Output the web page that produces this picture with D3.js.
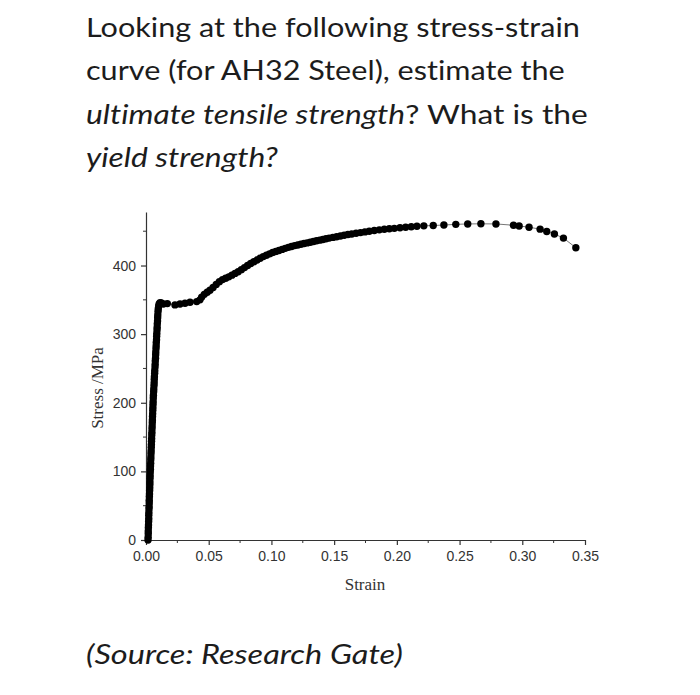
<!DOCTYPE html>
<html>
<head>
<meta charset="utf-8">
<script src="https://cdn.jsdelivr.net/npm/d3@7"></script>
<style>
  html, body { margin: 0; padding: 0; background: #fff; }
  svg { display: block; }
  text { font-variant-ligatures: none; }
</style>
</head>
<body>
<div id="chart"></div>
<script>
// ---- Data ----
const strain = [
  // elastic part
  0.0016,0.0017,0.0018,0.0018,0.0019,0.0020,0.0021,0.0022,0.0022,0.0023,
  0.0024,0.0025,0.0026,0.0026,0.0027,0.0028,0.0029,0.0030,0.0031,0.0031,
  0.0032,0.0033,0.0034,0.0035,0.0036,0.0037,0.0038,0.0039,0.0040,0.0041,
  0.0042,0.0043,0.0044,0.0045,0.0046,0.0047,0.0048,0.0049,0.0050,0.0051,
  0.0052,0.0053,0.0054,0.0055,0.0056,0.0057,0.0058,0.0059,0.0061,0.0062,
  0.0064,0.0065,0.0066,0.0067,0.0069,0.0070,0.0072,0.0073,0.0074,0.0076,
  0.0077,0.0078,0.0080,0.0081,0.0082,0.0084,0.0085,0.0086,0.0088,0.0089,
  0.0090,0.0092,0.0093,0.0094,0.0096,0.0098,0.0101,0.0105,0.0112,0.0122,
  // yield plateau
  0.0138,0.0170,0.0231,0.0271,0.0311,0.0351,0.0404,0.0430,0.0444,0.0465,
  // strain hardening
  0.0488,0.0510,0.0535,0.0560,0.0585,0.0610,0.0635,0.0660,0.0685,0.0710,
  0.0735,0.0760,0.0785,0.0810,0.0835,0.0860,0.0885,0.0910,0.0935,0.0960,
  0.0985,0.1010,0.1035,0.1060,0.1085,0.1110,0.1135,0.1160,0.1185,0.1210,
  0.1235,0.1260,0.1285,0.1310,0.1335,0.1360,0.1385,0.1410,0.1435,0.1460,
  0.1490,0.1520,0.1550,0.1580,0.1610,0.1640,0.1675,0.1710,0.1745,0.1780,
  0.1820,0.1860,0.1900,0.1940,0.1980,0.2025,0.2070,0.2115,0.2160,0.2215,
  0.2290,0.2375,0.2470,0.2565,0.2670,0.2790,0.2930,0.2975,0.3054,0.3142,
  0.3195,0.3256,0.3328,0.3427
];
const stress = [
  0,4,9,13,18,22,27,31,36,40,
  45,49,54,58,63,67,72,76,81,85,
  90,94,99,103,108,112,117,121,126,130,
  135,139,144,148,153,157,162,166,171,175,
  180,184,189,193,198,202,207,211,216,220,
  225,229,234,238,243,247,252,256,261,265,
  270,274,279,283,288,292,297,301,306,310,
  315,319,324,328,333,337,341,344,346,345.5,
  344,344.5,342.6,344,345,346.5,347.4,350,354,358,
  361,364,368,372.5,376.5,379.5,381.5,383.5,386,388.5,
  391,394,397,400,403,405.5,408,410.5,413,415,
  417,419,420.5,422,423.5,425,426.5,427.8,429,430,
  431,432,433,434,435,436,437,438,439,440,
  441,442,443,444.2,445.2,446,447,448,449,450,
  451,452,452.8,453.5,454.2,455,455.8,456.5,457.2,457.8,
  458.3,459,460,460.6,460.8,460.6,458.7,457.7,455.8,453,
  449.5,446,440,426
];
const xTicks = [0, 0.05, 0.10, 0.15, 0.20, 0.25, 0.30, 0.35];
const xMinorTicks = [0.025, 0.075, 0.125, 0.175, 0.225, 0.275, 0.325];
const yTicks = [0, 100, 200, 300, 400];
const yMinorTicks = [50, 150, 250, 350, 450];
const titleLines = [
  [{t: "Looking at the following stress-strain", i: false}],
  [{t: "curve (for AH32 Steel), estimate the", i: false}],
  [{t: "ultimate tensile strength", i: true}, {t: "? What is the", i: false}],
  [{t: "yield strength?", i: true}]
];
const titleLineEnds = [580, 565, 588, 278];
const sourceText = "(Source: Research Gate)";
const sourceEnd = 403;
const xLabel = "Strain";
const yLabel = "Stress /MPa";

const points = strain.map((s, k) => ({x: s, y: stress[k]}));

// ---- Layout ----
const W = 700, H = 695;
const svg = d3.select("#chart").append("svg")
  .attr("width", W).attr("height", H);

svg.append("rect").attr("width", W).attr("height", H).attr("fill", "#fff");

const textFont = "Lato, 'Open Sans', sans-serif";
const textX = 86;

// the page text is slightly wider than Lato renders here; stretch each line horizontally
function fitWidth(g, t, endX) {
  const w = t.node().getComputedTextLength();
  const sx = (endX - textX) / w;
  g.attr("transform", g.attr("transform") + ` scale(${sx.toFixed(4)},1)`);
}

titleLines.forEach((line, li) => {
  const g = svg.append("g").attr("transform", `translate(${textX},${37 + li * 43.3})`);
  const t = g.append("text")
    .attr("x", 0).attr("y", 0)
    .attr("font-family", textFont)
    .attr("font-size", 27)
    .attr("fill", "#1c1c1c");
  line.forEach(seg => {
    t.append("tspan").text(seg.t).attr("font-style", seg.i ? "italic" : "normal");
  });
  fitWidth(g, t, titleLineEnds[li]);
});

const gs = svg.append("g").attr("transform", `translate(${textX},664)`);
const src = gs.append("text")
  .attr("x", 0).attr("y", 0)
  .attr("font-family", textFont)
  .attr("font-size", 27)
  .attr("font-style", "italic")
  .attr("fill", "#1c1c1c")
  .text(sourceText);
fitWidth(gs, src, sourceEnd);

// Scales
const x = d3.scaleLinear().domain([0, 0.35]).range([146, 585]);
const y = d3.scaleLinear().domain([0, 478]).range([540, 212]);

const axisColor = "#333";

// X axis
const gx = svg.append("g").attr("transform", `translate(0,${y(0)})`);
gx.call(d3.axisBottom(x).tickValues(xTicks).tickFormat(d3.format(".2f")).tickSize(5).tickSizeOuter(0).tickPadding(6));
gx.append("g").selectAll("line").data(xMinorTicks).join("line")
  .attr("x1", d => x(d)).attr("x2", d => x(d)).attr("y1", 0).attr("y2", 3)
  .attr("stroke", axisColor);

// Y axis
const gy = svg.append("g").attr("transform", `translate(${x(0)},0)`);
gy.call(d3.axisLeft(y).tickValues(yTicks).tickFormat(d3.format("d")).tickSize(5).tickSizeOuter(0).tickPadding(5));
gy.append("g").selectAll("line").data(yMinorTicks).join("line")
  .attr("x1", 0).attr("x2", -3).attr("y1", d => y(d)).attr("y2", d => y(d))
  .attr("stroke", axisColor);

[gx, gy].forEach(g => {
  g.select(".domain").attr("stroke", axisColor).attr("stroke-width", 1.2);
  g.selectAll(".tick line").attr("stroke", axisColor).attr("stroke-width", 1.2);
  g.selectAll(".tick text")
    .attr("font-family", "Arial, 'Liberation Sans', Helvetica, sans-serif")
    .attr("font-size", 14)
    .attr("fill", "#333");
});

// Axis titles
svg.append("text")
  .attr("x", 365).attr("y", 590)
  .attr("text-anchor", "middle")
  .attr("font-family", "'Times New Roman', 'Liberation Serif', serif")
  .attr("font-size", 17)
  .attr("fill", "#333")
  .text(xLabel);

svg.append("text")
  .attr("transform", "translate(103,388) rotate(-90)")
  .attr("text-anchor", "middle")
  .attr("font-family", "'Times New Roman', 'Liberation Serif', serif")
  .attr("font-size", 17)
  .attr("fill", "#333")
  .text(yLabel);

// Connecting line
const line = d3.line().x(d => x(d.x)).y(d => y(d.y));
svg.append("path")
  .datum(points)
  .attr("d", line)
  .attr("fill", "none")
  .attr("stroke", "#777")
  .attr("stroke-width", 1);

// Dots
svg.append("g").selectAll("circle").data(points).join("circle")
  .attr("cx", d => x(d.x))
  .attr("cy", d => y(d.y))
  .attr("r", 3.7)
  .attr("fill", "#000");
</script>
</body>
</html>
